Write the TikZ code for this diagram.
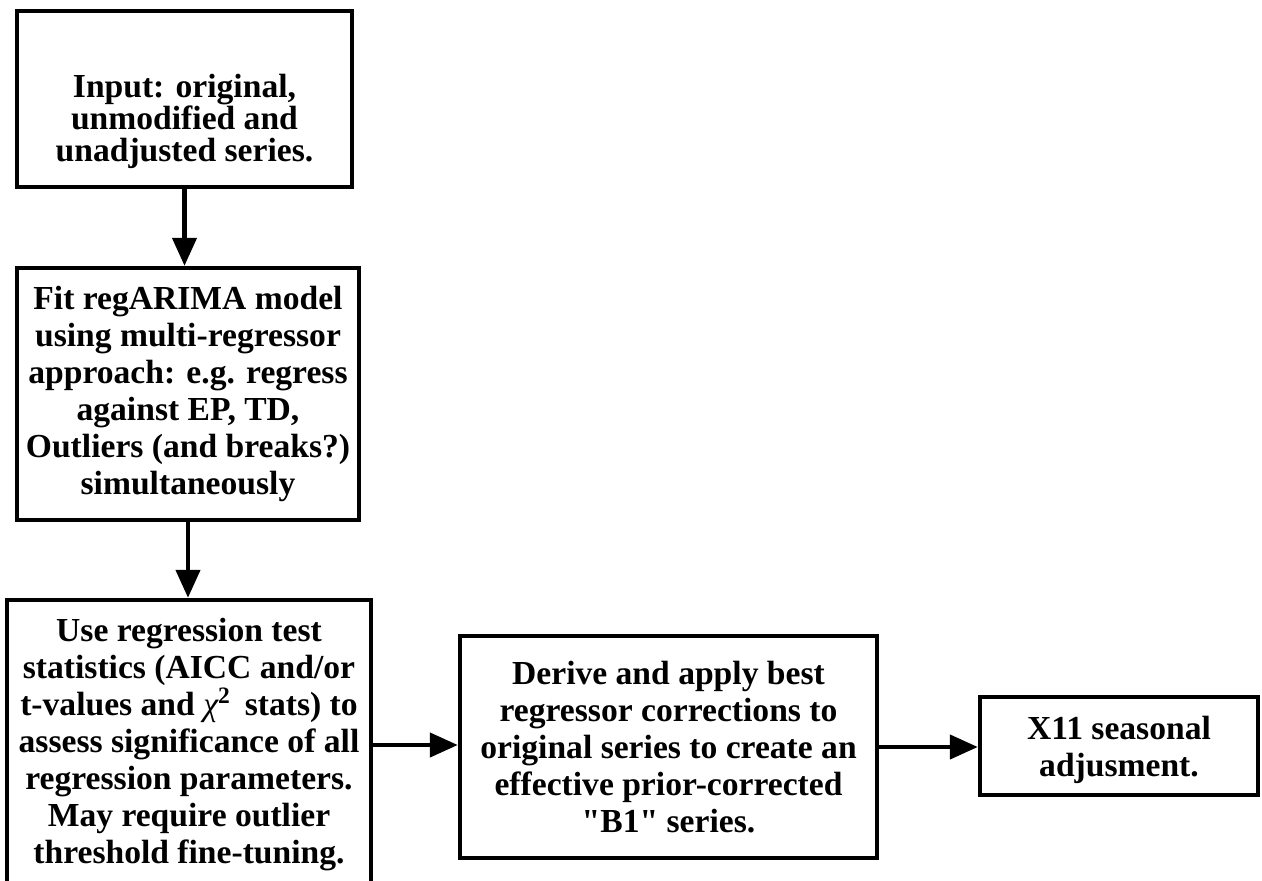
\documentclass[tikz,border=0pt]{standalone}
\usepackage{fontspec}
\setmainfont{Liberation Serif}
\usetikzlibrary{arrows.meta}
\begin{document}
\begin{tikzpicture}[x=0.5pt,y=-0.5pt,
  frame/.style={draw, line width=2.2pt, rectangle, inner sep=0pt},
  txt/.style={align=center, inner sep=0pt,
    font=\fontsize{16.8}{18.5}\selectfont\bfseries},
  box/.style={frame, txt},
  arr/.style={line width=2.2pt, -{Triangle[length=14pt,width=12pt]}}]
\useasboundingbox (0,0) rectangle (1262,881);
\clip (0,0) rectangle (1262,881);
\node[frame, minimum width=335*0.5pt, minimum height=176*0.5pt] (b1) at (184.5,99) {};
\node[txt, font=\fontsize{16.8}{16}\selectfont\bfseries] (t1) at (184.5,121)
  {Input: original,\\unmodified and\\unadjusted series.};
\node[box, minimum width=342*0.5pt, minimum height=252*0.5pt] (b2) at (188,394)
  {Fit regARIMA model\\using multi-regressor\\approach: e.g. regress\\against EP, TD,\\Outliers (and breaks?)\\simultaneously};
\node[box, minimum width=364*0.5pt, minimum height=290*0.5pt] (b3) at (189,745)
  {Use regression test\\statistics (AICC and/or\\t-values and {\mdseries\itshape χ}\textsuperscript{2}\, stats) to\\assess significance of all\\regression parameters.\\May require outlier\\threshold fine-tuning.};
\node[box, minimum width=417*0.5pt, minimum height=222*0.5pt] (b4) at (668.5,747)
  {Derive and apply best\\regressor corrections to\\original series to create an\\effective prior-corrected\\\textquotedbl B1\textquotedbl{} series.};
\node[frame, minimum width=278*0.5pt, minimum height=98*0.5pt] (b5) at (1119,746) {};
\node[txt] (t5) at (1119,750) {X11 seasonal\\adjusment.};
\draw[arr] (b1.south) -- (b1.south |- b2.north);
\draw[arr] (b2.south) -- (b2.south |- b3.north);
\draw[arr] (b3.east) -- (b3.east -| b4.west);
\draw[arr] (b4.east) -- (b4.east -| b5.west);
\end{tikzpicture}
\end{document}
